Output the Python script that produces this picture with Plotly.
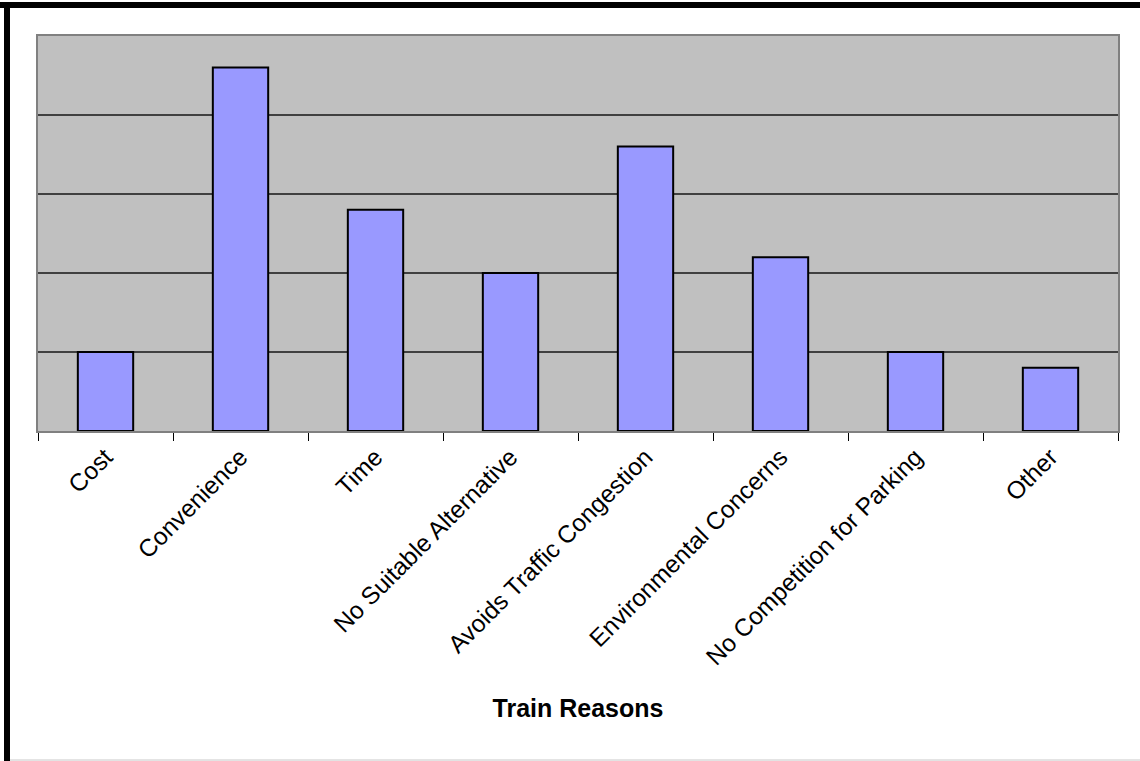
import plotly.graph_objects as go

categories = ["Cost", "Convenience", "Time", "No Suitable Alternative",
              "Avoids Traffic Congestion", "Environmental Concerns",
              "No Competition for Parking", "Other"]
values = [1.0, 4.6, 2.8, 2.0, 3.6, 2.2, 1.0, 0.8]
x_title = "Train Reasons"

W, H = 1140, 761
ml, mr, mt, mb = 38, 22, 36, 330

fig = go.Figure(go.Bar(
    x=categories, y=values,
    marker=dict(color="#9999FF", line=dict(color="#000000", width=2)),
))

def px(x):
    return (x - ml) / (W - ml - mr)

def py(y):
    return 1 - (y - mt) / (H - mt - mb)

fig.update_layout(
    width=W, height=H,
    margin=dict(l=ml, r=mr, t=mt, b=mb),
    paper_bgcolor="white",
    plot_bgcolor="#C0C0C0",
    bargap=0.59,
    showlegend=False,
    font=dict(family="Liberation Sans, Arial", color="black"),
    xaxis=dict(
        tickangle=-45,
        tickfont=dict(size=24.5, family="Liberation Sans, Arial"),
        tickson="boundaries",
        ticks="outside", ticklen=8, tickcolor="#000000", tickwidth=1,
        showline=True, linecolor="#808080", linewidth=2, mirror=True,
        showgrid=False,
        title=dict(text="<b>" + x_title + "</b>",
                   font=dict(size=25, family="Liberation Sans, Arial"),
                   standoff=30),
        automargin=False,
    ),
    yaxis=dict(
        range=[0, 5], dtick=1,
        showticklabels=False, ticks="",
        showgrid=True, gridcolor="#404040", gridwidth=1.5,
        showline=True, linecolor="#808080", linewidth=2, mirror=True,
        zeroline=False,
        automargin=False,
    ),
    shapes=[
        dict(type="rect", xref="paper", yref="paper",
             x0=px(0), x1=px(W), y0=py(2), y1=py(8),
             fillcolor="black", line=dict(width=0), layer="above"),
        dict(type="rect", xref="paper", yref="paper",
             x0=px(4), x1=px(10), y0=py(2), y1=py(H),
             fillcolor="black", line=dict(width=0), layer="above"),
        dict(type="line", xref="paper", yref="paper",
             x0=px(10), x1=px(W), y0=py(760), y1=py(760),
             line=dict(color="#C8C8C8", width=1), layer="above"),
    ],
)

fig.write_html("out.html")
